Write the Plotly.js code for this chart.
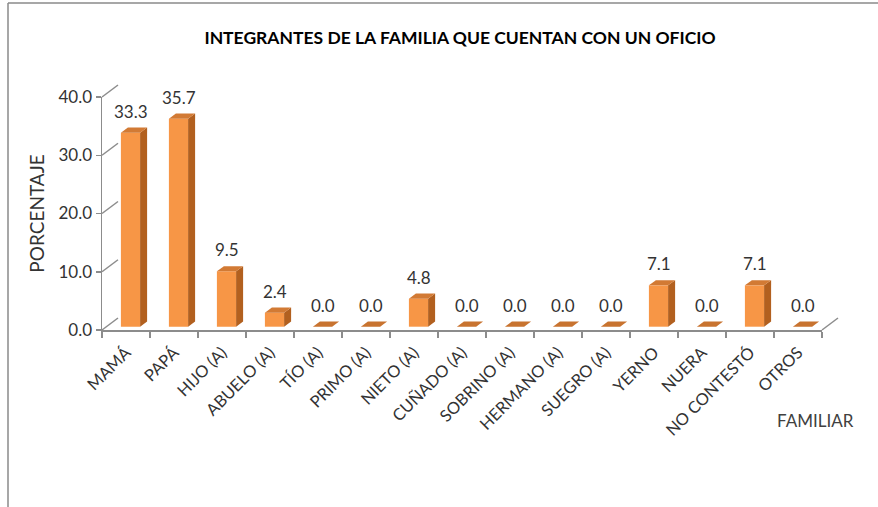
<!DOCTYPE html>
<html>
<head>
<meta charset="utf-8">
<script src="https://cdn.plot.ly/plotly-3.0.1.min.js"></script>
<style>
  html, body { margin: 0; padding: 0; background: #fff; }
  #chart { width: 878px; height: 507px; }
</style>
</head>
<body>
<div id="chart"></div>
<script>
// ---------------- data ----------------
const categories = ['MAMÁ', 'PAPÁ', 'HIJO (A)', 'ABUELO (A)', 'TÍO (A)', 'PRIMO (A)', 'NIETO (A)',
  'CUÑADO (A)', 'SOBRINO (A)', 'HERMANO (A)', 'SUEGRO (A)', 'YERNO', 'NUERA', 'NO CONTESTÓ', 'OTROS'];
const values = [33.3, 35.7, 9.5, 2.4, 0.0, 0.0, 4.8, 0.0, 0.0, 0.0, 0.0, 7.1, 0.0, 7.1, 0.0];
const yTickVals = [0, 10, 20, 30, 40];
const yTickText = ['0.0', '10.0', '20.0', '30.0', '40.0'];
const chartTitle = 'INTEGRANTES DE LA FAMILIA QUE CUENTAN CON UN OFICIO';
const yTitle = 'PORCENTAJE';
const xTitle = 'FAMILIAR';

// ---------------- geometry / style ----------------
const W = 878, H = 507;
const X0 = 102, Y0 = 330;      // front floor-left corner (px)
const PW = 720, PH = 233;      // front plane size (px)
const DX = 16, DY = 12;        // wall depth (px)
const BX = 4.5, BY = 3.3;      // bar front offset from front plane (px)
const BDX = 7, BDY = 5.2;      // bar depth (px)
const BW = 0.4;                // bar width (category units)
const YMAX = 40;
const FONT = 'Lato, "Open Sans", sans-serif';
const LINE = '#8c8c8c';
const TXT = '#333333';
const FRONT = '#F79646', SIDE = '#B2601F', TOP = '#D27A34';

const ml = X0, mb = H - Y0, pw = PW + DX, ph = PH + DY;
const mr = W - (X0 + pw), mt = Y0 - ph;
const nCat = categories.length;
const catPx = PW / nCat, unitPx = PH / YMAX;
const off = BX / catPx, base0 = BY / unitPx, bdx = BDX / catPx, bdy = BDY / unitPx;
const xp = px => (px - ml) / pw;
const yp = py => (Y0 - py) / ph;

// ---------------- traces ----------------
const bars = {
  type: 'bar', x: categories, y: values, xaxis: 'x2', yaxis: 'y2',
  base: base0, width: BW, offset: off - BW / 2,
  marker: { color: FRONT, line: { width: 0 } },
  hoverinfo: 'x+text', text: values.map(v => v.toFixed(1)), textposition: 'none',
  showlegend: false
};

// ---------------- shapes (3D faces, walls) ----------------
const shapes = [];
values.forEach((v, i) => {
  const L = i + off - BW / 2, R = i + off + BW / 2, b = base0, t = base0 + v;
  if (v > 0) {
    shapes.push({ type: 'path', xref: 'x2', yref: 'y2', layer: 'above',
      path: `M${R},${b} L${R + bdx},${b + bdy} L${R + bdx},${t + bdy} L${R},${t} Z`,
      fillcolor: SIDE, line: { width: 0 } });
  }
  shapes.push({ type: 'path', xref: 'x2', yref: 'y2', layer: 'above',
    path: `M${L},${t} L${L + bdx},${t + bdy} L${R + bdx},${t + bdy} L${R},${t} Z`,
    fillcolor: v > 0 ? TOP : '#C8732F', line: { width: 0 } });
});
// side wall diagonals at each gridline
yTickVals.forEach(tv => {
  const yf = (tv / YMAX) * PH;
  shapes.push({ type: 'line', xref: 'paper', yref: 'paper', layer: 'below',
    x0: 0, y0: yf / ph, x1: DX / pw, y1: (yf + DY) / ph,
    line: { color: LINE, width: 1.5 } });
});
// right floor edge
shapes.push({ type: 'line', xref: 'paper', yref: 'paper', layer: 'below',
  x0: PW / pw, y0: 0, x1: 1, y1: DY / ph, line: { color: LINE, width: 1.5 } });
// outer chart-area border (top and left)
shapes.push({ type: 'line', xref: 'paper', yref: 'paper', layer: 'below',
  x0: xp(8), y0: yp(3), x1: xp(880), y1: yp(3), line: { color: '#8a8a8a', width: 1.5 } });
shapes.push({ type: 'line', xref: 'paper', yref: 'paper', layer: 'below',
  x0: xp(8), y0: yp(3), x1: xp(8), y1: yp(510), line: { color: '#8a8a8a', width: 1.5 } });

// ---------------- annotations ----------------
const annotations = values.map((v, i) => ({
  xref: 'x2', yref: 'y2', x: i + off, y: base0 + v,
  text: v.toFixed(1), showarrow: false, xanchor: 'center', yanchor: 'bottom', yshift: 9,
  font: { family: FONT, size: 17, color: TXT }
}));
annotations.push({
  xref: 'paper', yref: 'paper', x: xp(815), y: yp(420), xanchor: 'center', yanchor: 'middle',
  text: xTitle, showarrow: false, font: { family: FONT, size: 17, color: '#404040' }
});

// ---------------- layout ----------------
const layout = {
  width: W, height: H,
  margin: { l: ml, r: mr, t: mt, b: mb, pad: 0 },
  paper_bgcolor: '#ffffff', plot_bgcolor: 'rgba(0,0,0,0)',
  showlegend: false,
  title: {
    text: chartTitle, xref: 'paper', x: xp(460), xanchor: 'center',
    yref: 'container', y: 1 - 38 / H, yanchor: 'middle',
    font: { family: FONT, size: 17.5, color: '#000000', weight: 'bold' }
  },
  // back wall (gridlines)
  xaxis: { domain: [DX / pw, 1], range: [0, 1], visible: false, fixedrange: true, anchor: 'y' },
  yaxis: {
    domain: [DY / ph, 1], range: [0, YMAX], anchor: 'x',
    tickmode: 'array', tickvals: yTickVals, showticklabels: false, ticks: '',
    showgrid: true, gridcolor: LINE, gridwidth: 1.5, zeroline: false,
    showline: true, linecolor: LINE, linewidth: 1.5
  },
  // front plane (axes, labels, bars)
  xaxis2: {
    domain: [0, PW / pw], anchor: 'y2', type: 'category',
    categoryorder: 'array', categoryarray: categories, range: [-0.5, nCat - 0.5],
    tickson: 'boundaries', ticks: 'outside', ticklen: 6, tickcolor: LINE, tickwidth: 1.5,
    tickangle: -45, ticklabelstandoff: 5, tickfont: { family: FONT, size: 16.5, color: TXT },
    showline: true, linecolor: LINE, linewidth: 1.5, showgrid: false, zeroline: false
  },
  yaxis2: {
    domain: [0, PH / ph], anchor: 'x2', range: [0, YMAX],
    tickmode: 'array', tickvals: yTickVals, ticktext: yTickText,
    ticks: 'outside', ticklen: 5, tickcolor: LINE, tickwidth: 1.5,
    tickfont: { family: FONT, size: 17, color: TXT },
    showline: true, linecolor: LINE, linewidth: 1.5, showgrid: false, zeroline: false,
    title: { text: yTitle, standoff: 9, font: { family: FONT, size: 19, color: TXT } }
  },
  shapes: shapes,
  annotations: annotations
};

Plotly.newPlot('chart', [bars], layout, { displayModeBar: false, staticPlot: true });
</script>
</body>
</html>
